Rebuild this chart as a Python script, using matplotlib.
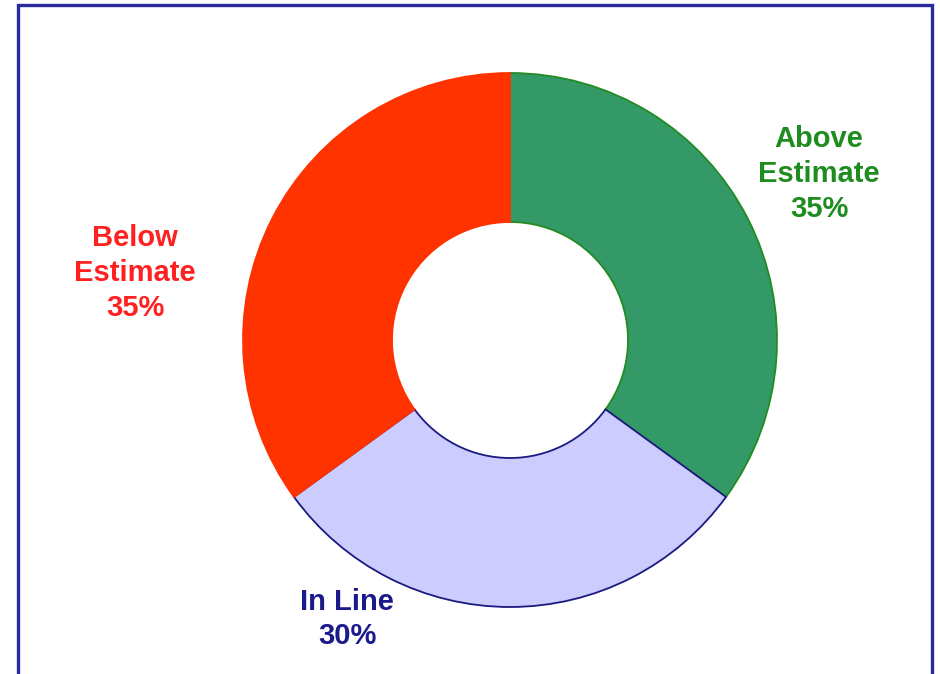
import matplotlib.pyplot as plt
from matplotlib.patches import Rectangle

# data
categories = ["Above\nEstimate", "In Line", "Below\nEstimate"]
shares = [35, 30, 35]

fill_colors = ["#339966", "#CCCCFF", "#FF3300"]
edge_colors = ["#228B22", "#1A1A80", "#FF3300"]
text_colors = ["#1E8C1E", "#1A1A8C", "#FF2020"]
# label centres in pixel coords (x, y from top)
label_pos = [(819, 174), (347, 619), (135, 273)]

W, H = 940, 674
fig = plt.figure(figsize=(W / 100, H / 100), dpi=100)
ax = fig.add_axes([0, 0, 1, 1])

cx, cy, r_out, r_in = 510, H - 340, 267, 118
wedges, _ = ax.pie(
    shares,
    center=(cx, cy),
    radius=r_out,
    startangle=90,
    counterclock=False,
    wedgeprops=dict(width=r_out - r_in, linewidth=1.3),
    frame=True,
)
for w, fc, ec in zip(wedges, fill_colors, edge_colors):
    w.set_facecolor(fc)
    w.set_edgecolor(ec)
ax.set_xlim(0, W)
ax.set_ylim(0, H)
ax.set_aspect("equal")
ax.axis("off")

for cat, val, col, (x, y) in zip(categories, shares, text_colors, label_pos):
    ax.text(x, H - y, f"{cat}\n{val}%", color=col, ha="center", va="center",
            fontsize=21, fontweight="bold", family="Liberation Sans",
            linespacing=1.3)

# outer frame
fig.patches.append(Rectangle((18 / W, -0.05), (932 - 18) / W, (H - 5) / H + 0.05,
                             transform=fig.transFigure, fill=False,
                             edgecolor="#2B2BA0", linewidth=2.4))

fig.savefig("out.png", dpi=100)
